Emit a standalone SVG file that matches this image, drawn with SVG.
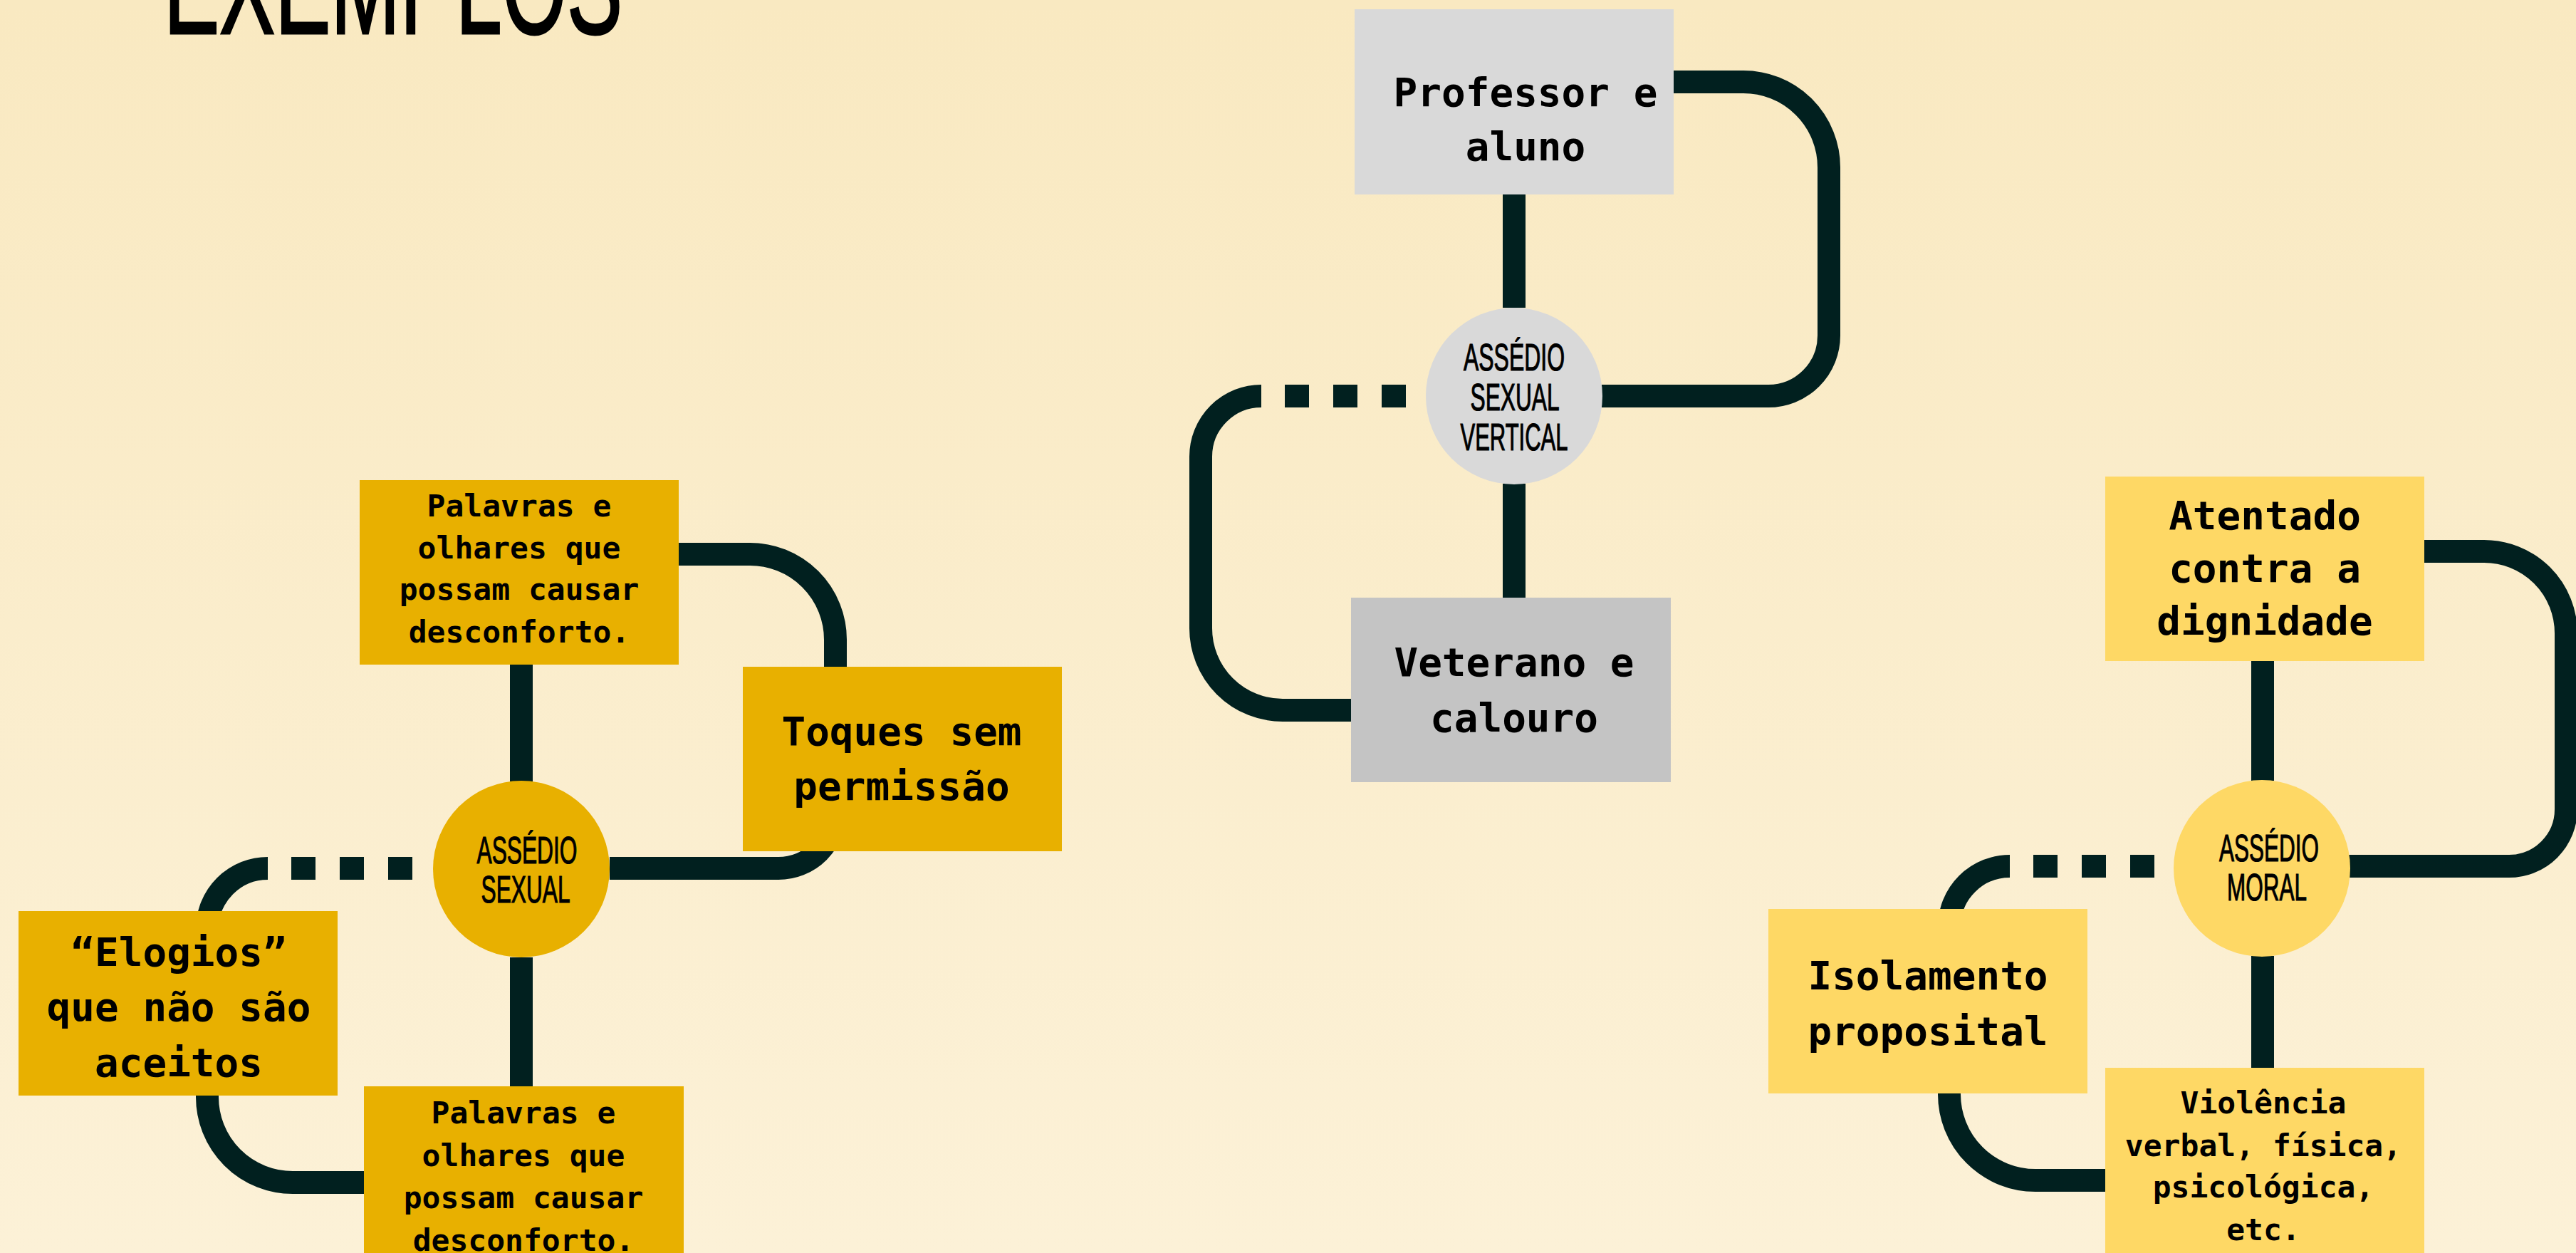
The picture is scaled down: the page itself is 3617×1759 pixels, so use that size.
<svg xmlns="http://www.w3.org/2000/svg" width="3617" height="1759" viewBox="0 0 3617 1759">
<defs>
<linearGradient id="bg" x1="0" y1="0" x2="0" y2="1">
<stop offset="0" stop-color="#f9e9c1"/>
<stop offset="1" stop-color="#fcf1d7"/>
</linearGradient>
<style>
.wire{fill:none;stroke:#01201f;stroke-width:32}
.dash{fill:none;stroke:#01201f;stroke-width:32;stroke-dasharray:34 34}
.mono{font-family:"DejaVu Sans Mono","Liberation Mono",monospace;font-weight:bold;fill:#000;text-anchor:middle}
.big{font-size:56px}
.small{font-size:43px}
.cond{font-family:"Liberation Sans",Arial,sans-serif;font-size:53px;fill:#000;stroke:#000;stroke-width:1.2;text-anchor:middle}
.dy{fill:#e8b000}
.ly{fill:#fed865}
.g1{fill:#d9d9d9}
.g2{fill:#c4c4c4}
</style>
</defs>
<rect x="0" y="0" width="3617" height="1759" fill="url(#bg)"/>
<text x="552" y="47" font-family="Liberation Sans, Arial, sans-serif" font-size="196" fill="#000" stroke="#000" stroke-width="3" text-anchor="middle" textLength="644" lengthAdjust="spacingAndGlyphs">EXEMPLOS</text>

<g id="connectors">
<!-- center -->
<path class="wire" d="M2126,273 V432"/>
<path class="wire" d="M2126,679 V840"/>
<path class="wire" d="M2350,115 H2448 A120,120 0 0 1 2568,235 V471 A85,85 0 0 1 2483,556 H2249"/>
<path class="wire" d="M1771,556 A85,85 0 0 0 1686,641 V882 A115,115 0 0 0 1801,997 H1898"/>
<path class="dash" d="M1974,556 H1804"/>
<!-- left -->
<path class="wire" d="M732,933 V1097"/>
<path class="wire" d="M732,1344 V1526"/>
<path class="wire" d="M953,778 H1053 A120,120 0 0 1 1173,898 V1139 A80,80 0 0 1 1093,1219 H856"/>
<path class="wire" d="M376,1219 A85,85 0 0 0 291,1304 V1540 A120,120 0 0 0 411,1660 H512"/>
<path class="dash" d="M579,1219 H409"/>
<!-- right -->
<path class="wire" d="M3177,928 V1096"/>
<path class="wire" d="M3177,1342 V1500"/>
<path class="wire" d="M3404,774 H3488 A115,115 0 0 1 3603,889 V1136 A80,80 0 0 1 3523,1216 H3298"/>
<path class="wire" d="M2822,1216 A85,85 0 0 0 2737,1301 V1536 A121,121 0 0 0 2858,1657 H2957"/>
<path class="dash" d="M3025,1216 H2855"/>
</g>

<!-- center diagram -->
<g id="professor">
<rect class="g1" x="1902" y="13" width="448" height="260"/>
<text class="mono big" x="2142" y="149">Professor e</text>
<text class="mono big" x="2142" y="225">aluno</text>
</g>
<g id="assedio-vertical">
<circle class="g1" cx="2126" cy="556" r="124"/>
<text class="cond" x="2126" y="520" textLength="142" lengthAdjust="spacingAndGlyphs">ASSÉDIO</text>
<text class="cond" x="2127" y="576" textLength="125" lengthAdjust="spacingAndGlyphs">SEXUAL</text>
<text class="cond" x="2126" y="632" textLength="151" lengthAdjust="spacingAndGlyphs">VERTICAL</text>
</g>
<g id="veterano">
<rect class="g2" x="1897" y="839" width="449" height="259"/>
<text class="mono big" x="2126" y="949">Veterano e</text>
<text class="mono big" x="2126" y="1027">calouro</text>
</g>

<!-- left diagram -->
<g id="palavras-top">
<rect class="dy" x="505" y="674" width="448" height="259"/>
<text class="mono small" x="729" y="725">Palavras e</text>
<text class="mono small" x="729" y="784">olhares que</text>
<text class="mono small" x="729" y="842">possam causar</text>
<text class="mono small" x="729" y="902">desconforto.</text>
</g>
<g id="toques">
<rect class="dy" x="1043" y="936" width="448" height="259"/>
<text class="mono big" x="1266" y="1046">Toques sem</text>
<text class="mono big" x="1266" y="1123">permissão</text>
</g>
<g id="assedio-sexual">
<circle class="dy" cx="732" cy="1220" r="124"/>
<text class="cond" x="740" y="1212" textLength="141" lengthAdjust="spacingAndGlyphs">ASSÉDIO</text>
<text class="cond" x="738" y="1267" textLength="125" lengthAdjust="spacingAndGlyphs">SEXUAL</text>
</g>
<g id="elogios">
<rect class="dy" x="26" y="1279" width="448" height="259"/>
<text class="mono big" x="251" y="1356">“Elogios”</text>
<text class="mono big" x="251" y="1433">que não são</text>
<text class="mono big" x="251" y="1511">aceitos</text>
</g>
<g id="palavras-bottom">
<rect class="dy" x="511" y="1525" width="449" height="240"/>
<text class="mono small" x="735" y="1577">Palavras e</text>
<text class="mono small" x="735" y="1637">olhares que</text>
<text class="mono small" x="735" y="1696">possam causar</text>
<text class="mono small" x="735" y="1756">desconforto.</text>
</g>

<!-- right diagram -->
<g id="atentado">
<rect class="ly" x="2956" y="669" width="448" height="259"/>
<text class="mono big" x="3180" y="743">Atentado</text>
<text class="mono big" x="3180" y="817">contra a</text>
<text class="mono big" x="3180" y="891">dignidade</text>
</g>
<g id="assedio-moral">
<circle class="ly" cx="3176" cy="1219" r="124"/>
<text class="cond" x="3186" y="1209" textLength="140" lengthAdjust="spacingAndGlyphs">ASSÉDIO</text>
<text class="cond" x="3183" y="1264" textLength="112" lengthAdjust="spacingAndGlyphs">MORAL</text>
</g>
<g id="isolamento">
<rect class="ly" x="2483" y="1276" width="448" height="259"/>
<text class="mono big" x="2707" y="1389">Isolamento</text>
<text class="mono big" x="2707" y="1467">proposital</text>
</g>
<g id="violencia">
<rect class="ly" x="2956" y="1499" width="448" height="260"/>
<text class="mono small" x="3178" y="1563">Violência</text>
<text class="mono small" x="3178" y="1623">verbal, física,</text>
<text class="mono small" x="3178" y="1681">psicológica,</text>
<text class="mono small" x="3178" y="1741">etc.</text>
</g>
</svg>
